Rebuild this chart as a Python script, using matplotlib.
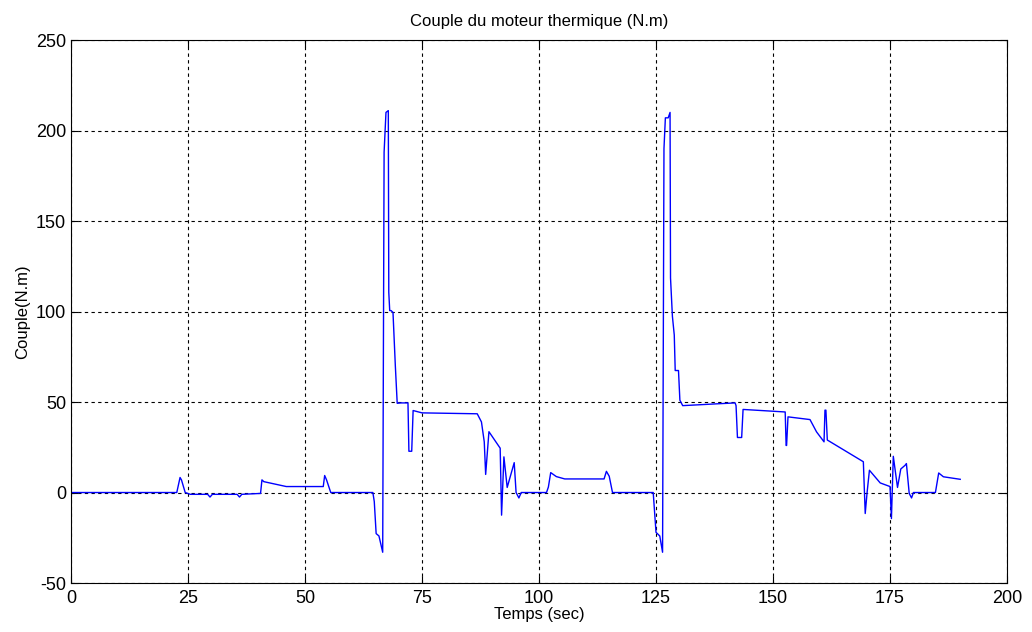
import numpy as np
import matplotlib.pyplot as plt

plt.rcParams['font.family'] = ['Liberation Sans', 'DejaVu Sans']
plt.rcParams['axes.unicode_minus'] = False

# Couple du moteur thermique (temps en s, couple en N.m)
temps = [0, 22.6, 23.3, 23.6, 24.4, 25.5, 29.2, 29.7, 30.2, 35.5, 36.0, 36.5, 40.5,
         40.8, 41.2, 46.0, 53.9, 54.2, 54.6, 55.5, 60.0, 64.5, 64.8, 65.2, 65.8,
         66.6, 66.9, 67.3, 67.8, 67.9, 68.1, 68.4, 68.8, 69.3, 69.7, 70.5, 72.0,
         72.2, 72.8, 73.1, 75.0, 86.8, 87.7, 88.3, 88.6, 89.3, 91.7, 92.0, 92.5,
         93.2, 94.7, 95.1, 95.7, 96.2, 101.6, 102.0, 102.5, 103.7, 105.5, 113.9,
         114.4, 115.0, 115.7, 120.0, 124.4, 125.0, 125.8, 126.4, 126.7, 127.0, 127.6,
         128.0, 128.1, 128.5, 128.9, 129.1, 129.8, 130.1, 130.7, 134.4, 138.0,
         141.9, 142.1, 142.4, 143.3, 143.6, 152.6, 152.8, 152.9, 153.2, 157.9,
         159.3, 160.9, 161.1, 161.3, 161.6, 169.3, 169.7, 170.1, 170.6, 172.9,
         175.0, 175.3, 175.7, 176.6, 177.3, 178.2, 178.5, 179.1, 179.6, 180.0,
         184.7, 185.4, 186.4, 190.0]
couple = [0, 0, 8.3, 7.0, 0, -1, -1, -2.5, -1, -1, -2.5, -1, -0.5,
          7.0, 6.0, 3.3, 3.3, 9.4, 7.0, 0, 0, 0, -5, -22.7, -24,
          -33, 188, 210, 211, 110.6, 100.5, 100.5, 99.5, 70, 49.3, 49.5, 49.5,
          22.8, 22.8, 45.3, 44, 43.5, 39, 28, 10, 33.6, 24.5, -12.5, 19.7,
          2.8, 16.5, 0, -3, 0, 0, 3, 11, 8.8, 7.5, 7.5,
          11.7, 9, 0, 0, 0, -22, -24, -33, 190, 207, 207,
          210, 118.5, 97.4, 87, 67.4, 67.4, 51, 48, 48.5, 49,
          49.5, 48, 30.4, 30.4, 45.9, 44.5, 26, 26, 41.8, 40.3,
          33.5, 28, 45.5, 45.5, 29, 17, -11.6, 0, 12.3, 5.3,
          3.3, -14.4, 20, 2.8, 13, 15, 16, -0.5, -3, 0,
          0, 10.8, 8.7, 7.3]

fig = plt.figure(figsize=(10.32, 6.32), dpi=100)
ax = fig.add_axes([0.0688, 0.0775, 0.9070, 0.8592])

ax.plot(temps, couple, color='#0000ff', linewidth=1.0)

ax.set_xlim(0, 200)
ax.set_ylim(-50, 250)
ax.set_xticks(np.arange(0, 201, 25))
ax.set_yticks(np.arange(-50, 251, 50))
ax.tick_params(direction='in', labelsize=13, length=5, top=True, right=True)
ax.tick_params(axis='x', pad=5)
ax.grid(True, color='black', linestyle=(0, (3, 3)), linewidth=0.8)

ax.set_title('Couple du moteur thermique (N.m)', fontsize=12, pad=10)
ax.set_xlabel('Temps (sec)', fontsize=12, labelpad=0)
ax.set_ylabel('Couple(N.m)', fontsize=12, labelpad=4)

fig.savefig('out.png', dpi=100)
